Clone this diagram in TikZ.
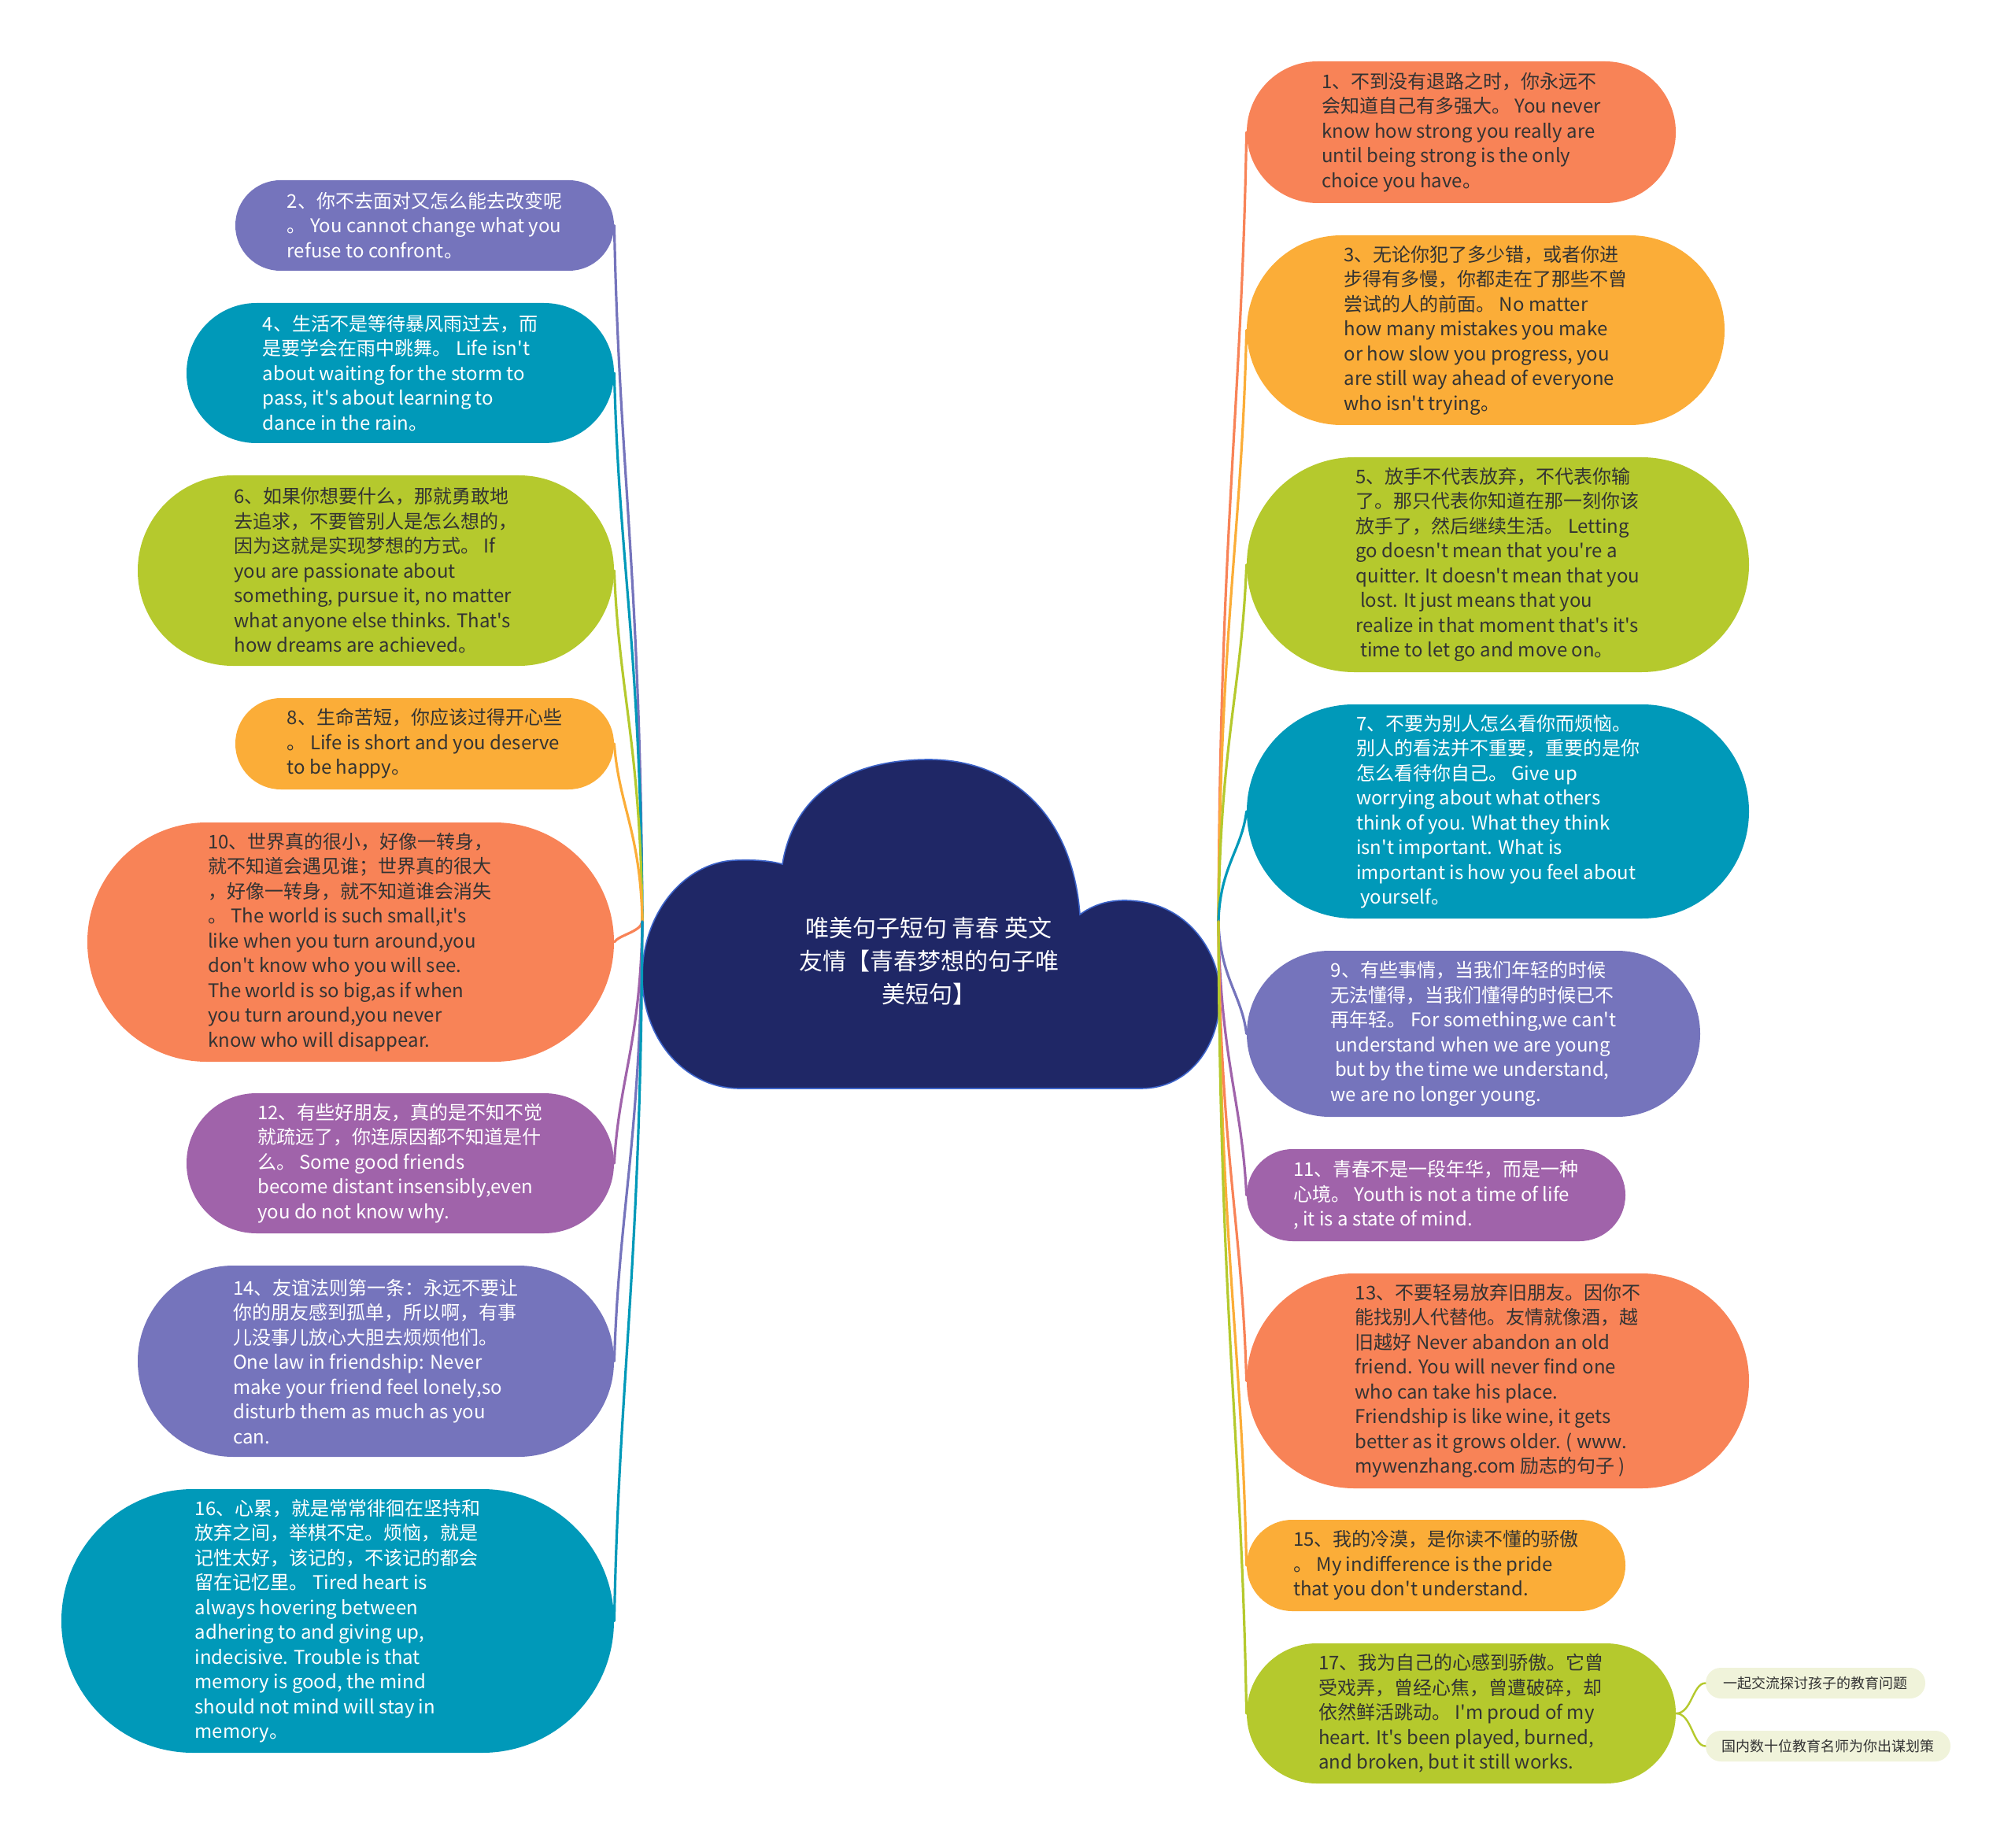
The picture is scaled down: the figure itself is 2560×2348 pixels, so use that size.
\documentclass[tikz,border=0pt]{standalone}
\usepackage{fontspec}
\newfontfamily\quotefont{Noto Sans CJK SC}
\usetikzlibrary{calc}

\definecolor{qorange}{HTML}{F88357}
\definecolor{qamber}{HTML}{FBAD38}
\definecolor{qlime}{HTML}{B5C92D}
\definecolor{qteal}{HTML}{0099B9}
\definecolor{qpurple}{HTML}{7574BC}
\definecolor{qviolet}{HTML}{A063AA}
\definecolor{cloudnavy}{HTML}{1F2766}
\definecolor{cloudrim}{HTML}{3B62C8}
\definecolor{notefill}{HTML}{F0F3DA}
\definecolor{inkdark}{HTML}{333333}

\begin{document}
\begin{tikzpicture}[x=0.5pt, y=-0.5pt,
  every node/.style={font=\quotefont\fontsize{12}{15.75}\selectfont, align=left, inner sep=0pt},
  pill/.style 2 args={minimum width=#1*0.5pt, minimum height=#2*0.5pt, rounded corners=#2*0.25pt-0.1pt},
  darkquote/.style={fill=#1, text=inkdark},
  lightquote/.style={fill=#1, text=white},
  link/.style={draw=#1, line width=1.6pt, line cap=round},
  notebox/.style={fill=notefill, text=inkdark, font=\quotefont\fontsize{9}{11}\selectfont}]
	\useasboundingbox (0,0) rectangle (2560,2348);
	% central cloud
	\filldraw[fill=cloudnavy, draw=cloudrim, line width=0.8pt] (994,1098) .. controls (1010,1000) and (1090,965) .. (1180,965) .. controls (1280,965) and (1362,1030) .. (1372,1162) .. controls (1395,1145) and (1420,1142) .. (1445,1145) .. controls (1510,1152) and (1550,1210) .. (1550,1265) .. controls (1550,1330) and (1510,1383) .. (1450,1383) -- (940,1383) .. controls (870,1383) and (816,1320) .. (816,1240) .. controls (816,1160) and (870,1095) .. (935,1093) .. controls (960,1092) and (980,1094) .. (994,1098) -- cycle;
	\node[text=white, align=center, font=\quotefont\fontsize{15}{20.8}\selectfont] (title) at (1180,1221) {唯美句子短句 青春 英文\\友情【青春梦想的句子唯\\美短句】};
	\coordinate (lroot) at (816,1171);
	\coordinate (rroot) at (1548,1171);
	% left column
	\node[lightquote=qpurple, pill={481}{115}] (q2) at (539.5,286.5) {2、你不去面对又怎么能去改变呢\\。 You cannot change what you\\refuse to confront。};
	\node[lightquote=qteal, pill={543}{178}] (q4) at (508.5,474) {4、生活不是等待暴风雨过去，而\\是要学会在雨中跳舞。 Life isn't\\about waiting for the storm to\\pass, it's about learning to\\dance in the rain。};
	\node[darkquote=qlime, pill={605}{242}] (q6) at (477.5,725) {6、如果你想要什么，那就勇敢地\\去追求，不要管别人是怎么想的，\\因为这就是实现梦想的方式。 If\\you are passionate about\\something, pursue it, no matter\\what anyone else thinks. That's\\how dreams are achieved。};
	\node[darkquote=qamber, pill={481}{116}] (q8) at (539.5,945) {8、生命苦短，你应该过得开心些\\。 Life is short and you deserve\\to be happy。};
	\node[darkquote=qorange, pill={669}{304}] (q10) at (445.5,1197) {10、世界真的很小，好像一转身，\\就不知道会遇见谁；世界真的很大\\，好像一转身，就不知道谁会消失\\。 The world is such small,it's\\like when you turn around,you\\don't know who you will see.\\The world is so big,as if when\\you turn around,you never\\know who will disappear.};
	\node[lightquote=qviolet, pill={543}{178}] (q12) at (508.5,1478) {12、有些好朋友，真的是不知不觉\\就疏远了，你连原因都不知道是什\\么。 Some good friends\\become distant insensibly,even\\you do not know why.};
	\node[lightquote=qpurple, pill={605}{243}] (q14) at (477.5,1729.5) {14、友谊法则第一条：永远不要让\\你的朋友感到孤单，所以啊，有事\\儿没事儿放心大胆去烦烦他们。\\One law in friendship: Never\\make your friend feel lonely,so\\disturb them as much as you\\can.};
	\node[lightquote=qteal, pill={702}{335}] (q16) at (429,2059.5) {16、心累，就是常常徘徊在坚持和\\放弃之间，举棋不定。烦恼，就是\\记性太好，该记的，不该记的都会\\留在记忆里。 Tired heart is\\always hovering between\\adhering to and giving up,\\indecisive. Trouble is that\\memory is good, the mind\\should not mind will stay in\\memory。};
	% right column
	\node[darkquote=qorange, pill={545}{180}] (q1) at (1856.5,168) {1、不到没有退路之时，你永远不\\会知道自己有多强大。 You never\\know how strong you really are\\until being strong is the only\\choice you have。};
	\node[darkquote=qamber, pill={607}{241}] (q3) at (1887.5,419.5) {3、无论你犯了多少错，或者你进\\步得有多慢，你都走在了那些不曾\\尝试的人的前面。 No matter\\how many mistakes you make\\or how slow you progress, you\\are still way ahead of everyone\\who isn't trying。};
	\node[darkquote=qlime, pill={638}{273}] (q5) at (1903,717.5) {5、放手不代表放弃，不代表你输\\了。那只代表你知道在那一刻你该\\放手了，然后继续生活。 Letting\\go doesn't mean that you're a\\quitter. It doesn't mean that you\\~lost. It just means that you\\realize in that moment that's it's\\~time to let go and move on。};
	\node[lightquote=qteal, pill={638}{272}] (q7) at (1903,1031) {7、不要为别人怎么看你而烦恼。\\别人的看法并不重要，重要的是你\\怎么看待你自己。 Give up\\worrying about what others\\think of you. What they think\\isn't important. What is\\important is how you feel about\\~yourself。};
	\node[lightquote=qpurple, pill={576}{211}] (q9) at (1872,1313.5) {9、有些事情，当我们年轻的时候\\无法懂得，当我们懂得的时候已不\\再年轻。 For something,we can't\\~understand when we are young\\~but by the time we understand,\\we are no longer young.};
	\node[lightquote=qviolet, pill={481}{117}] (q11) at (1824.5,1518.5) {11、青春不是一段年华，而是一种\\心境。 Youth is not a time of life\\, it is a state of mind.};
	\node[darkquote=qorange, pill={638}{273}] (q13) at (1903,1754.5) {13、不要轻易放弃旧朋友。因你不\\能找别人代替他。友情就像酒，越\\旧越好 Never abandon an old\\friend. You will never find one\\who can take his place.\\Friendship is like wine, it gets\\better as it grows older. ( www.\\mywenzhang.com 励志的句子 )};
	\node[darkquote=qamber, pill={481}{116}] (q15) at (1824.5,1989) {15、我的冷漠，是你读不懂的骄傲\\。 My indifference is the pride\\that you don't understand.};
	\node[darkquote=qlime, pill={545}{178}] (q17) at (1856.5,2177) {17、我为自己的心感到骄傲。它曾\\受戏弄，曾经心焦，曾遭破碎，却\\依然鲜活跳动。 I'm proud of my\\heart. It's been played, burned,\\and broken, but it still works.};
	\node[notebox, pill={279}{39}] (note1) at (2306.5,2138.5) {一起交流探讨孩子的教育问题};
	\node[notebox, pill={311}{39}] (note2) at (2322.5,2218.5) {国内数十位教育名师为你出谋划策};
	% connectors
	\foreach \q/\col in {q2/qpurple, q4/qteal, q6/qlime, q8/qamber, q10/qorange, q12/qviolet, q14/qpurple, q16/qteal}
		\draw[link=\col] (\q.east) .. controls ($(\q.east)!0.35!(\q.east |- lroot)+(3pt,0)$) and ($(lroot)!0.5!(lroot |- \q.east)+(-1pt,0)$) .. (lroot);
	\foreach \q/\col in {q1/qorange, q3/qamber, q5/qlime, q7/qteal, q9/qpurple, q11/qviolet, q13/qorange, q15/qamber, q17/qlime}
		\draw[link=\col] (\q.west) .. controls ($(\q.west)!0.35!(\q.west |- rroot)+(-3pt,0)$) and ($(rroot)!0.5!(rroot |- \q.west)+(1pt,0)$) .. (rroot);
	\draw[link=qlime, line width=1.2pt] (q17.east) .. controls +(10pt,0) and +(-8pt,0) .. (note1.west);
	\draw[link=qlime, line width=1.2pt] (q17.east) .. controls +(10pt,0) and +(-8pt,0) .. (note2.west);
\end{tikzpicture}
\end{document}
